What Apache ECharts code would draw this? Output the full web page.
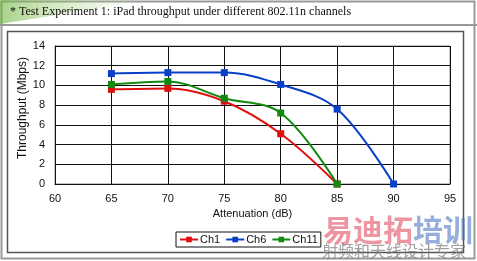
<!DOCTYPE html>
<html><head><meta charset="utf-8">
<script src="https://cdn.jsdelivr.net/npm/echarts@6/dist/echarts.min.js"></script>
<style>html,body{margin:0;padding:0;background:#fff}#c{width:477px;height:261px}</style>
</head><body><div id="c"></div>
<script>
const attenuation = [65, 70, 75, 80, 85, 90];
const ch1 = [9.6, 9.7, 8.4, 5.1, 0];
const ch6 = [11.2, 11.3, 11.3, 10.1, 7.6, 0];
const ch11 = [10.1, 10.4, 8.7, 7.2, 0];
const seriesNames = ['Ch1', 'Ch6', 'Ch11'];
const seriesColors = ['#e01010', '#0a40c8', '#108a10'];
const titleText = '* Test Experiment 1: iPad throughput under different 802.11n channels';
const yAxisTitle = 'Throughput (Mbps)';

function pairs(vals){ return vals.map((v,i)=>[attenuation[i], v]); }
const chart = echarts.init(document.getElementById('c'), null, {renderer:'canvas'});
const allData = [ch1, ch6, ch11];
chart.setOption({
  animation:false,
  backgroundColor:'#fff',
  grid:{left:55, top:46, right:27, bottom:77, show:true, borderColor:'#888', borderWidth:1},
  xAxis:{type:'value', min:60, max:95, interval:5,
    name:'Attenuation (dB)', nameLocation:'middle', nameGap:24,
    nameTextStyle:{fontFamily:'Liberation Sans', fontSize:11, color:'#111'},
    axisLine:{lineStyle:{color:'#111'}}, axisTick:{show:false},
    axisLabel:{fontFamily:'Liberation Sans', fontSize:11, color:'#111', margin:9},
    splitLine:{show:true, lineStyle:{color:'#111', width:1}}},
  yAxis:{type:'value', min:0, max:14, interval:2,
    axisLine:{show:true, lineStyle:{color:'#111'}}, axisTick:{show:false},
    axisLabel:{fontFamily:'Liberation Sans', fontSize:11, color:'#111', margin:10},
    splitLine:{show:true, lineStyle:{color:'#111', width:1}}},
  legend:{bottom:14, left:176, itemWidth:18, itemHeight:7, itemGap:5,
    borderColor:'#111', borderWidth:1, padding:[2,3,2,3],
    textStyle:{fontFamily:'Liberation Sans', fontSize:11, color:'#111', padding:[0,0,0,-3]},
    data:seriesNames},
  series: seriesNames.map((n,i)=>({
    name:n, type:'line', smooth:0.35, data:pairs(allData[i]),
    symbol:'rect', symbolSize:7, color:seriesColors[i],
    lineStyle:{width:2, color:seriesColors[i]}, itemStyle:{color:seriesColors[i]}
  })),
  graphic:[
    {type:'rect', shape:{x:1.5, y:1.5, width:473, height:257}, style:{fill:'none', stroke:'#999', lineWidth:2}, z:-10},
    {type:'polygon', shape:{points:[[0,0],[150,0],[0,24]]},
      style:{fill:new echarts.graphic.LinearGradient(0,0,1,0,[{offset:0,color:'rgba(110,180,60,0.6)'},{offset:1,color:'rgba(190,225,160,0)'}])}, z:-9},
    {type:'line', shape:{x1:0, y1:25, x2:477, y2:25}, style:{stroke:'#999', lineWidth:2}},
    {type:'text', left:10, top:6, style:{text:titleText, font:'12px "Liberation Serif"', fill:'#111'}},
    {type:'rect', shape:{x:7.5, y:31.5, width:456, height:221}, style:{fill:'none', stroke:'#555', lineWidth:1.5}, z:-8},
    {type:'text', x:23, y:108, rotation:Math.PI/2,
      style:{text:yAxisTitle, font:'12px "Liberation Sans"', fill:'#111', align:'center', verticalAlign:'middle'}},
    {type:'text', left:323, top:215, style:{text:'易迪拓', font:'bold 30px "Noto Sans CJK SC"', fill:'rgba(225,80,100,0.6)'}, z:50},
    {type:'text', left:413, top:215, style:{text:'培训', font:'bold 30px "Noto Sans CJK SC"', fill:'rgba(80,120,195,0.6)'}, z:50},
    {type:'text', left:322, top:243, style:{text:'射频和天线设计专家', font:'16px "Noto Sans CJK SC"', fill:'rgba(120,120,120,0.7)'}, z:50}
  ]
});
</script></body></html>
